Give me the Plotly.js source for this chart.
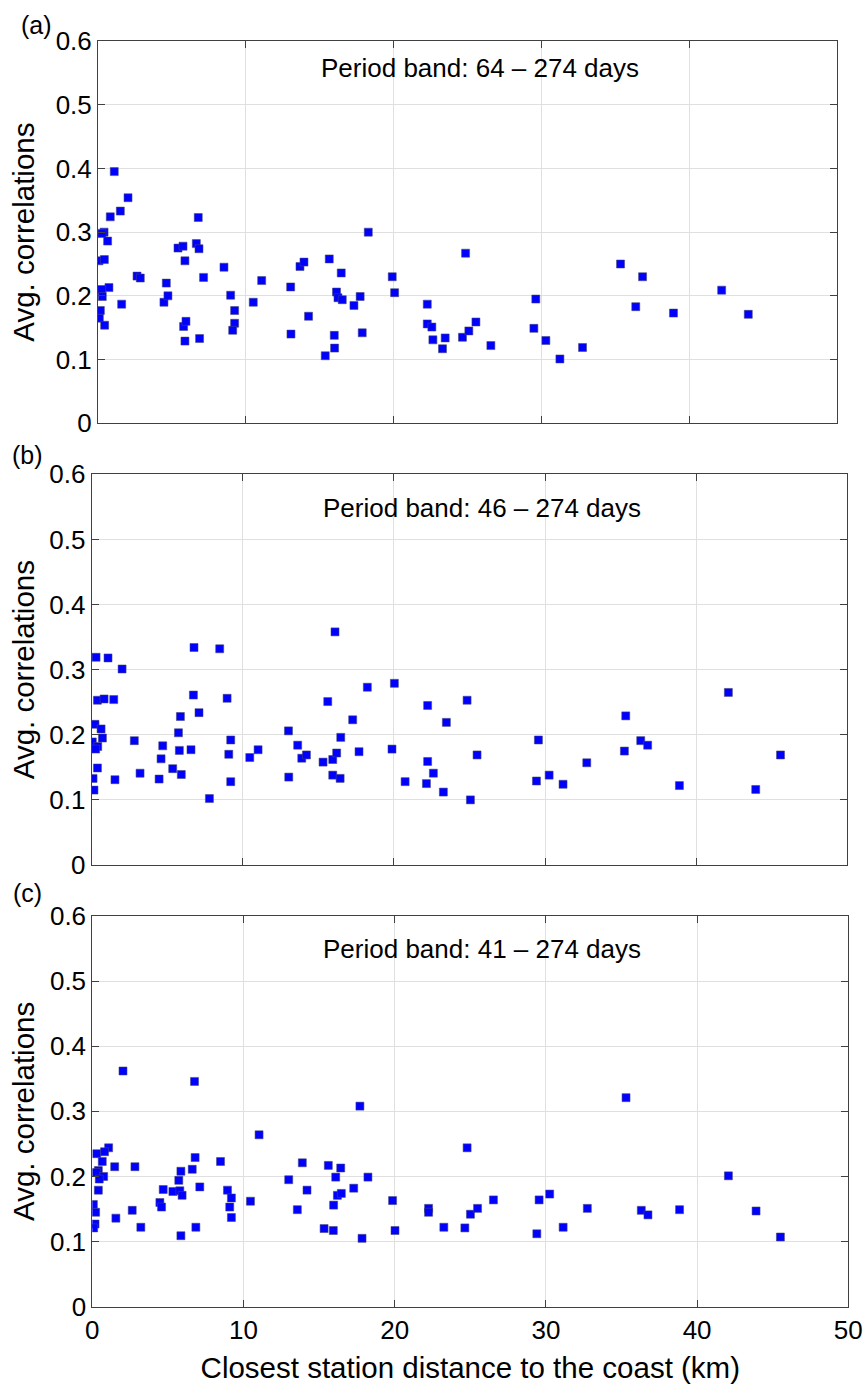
<!DOCTYPE html>
<html>
<head>
<meta charset="utf-8">
<script src="https://cdn.plot.ly/plotly-3.0.1.min.js"></script>
<style>html,body{margin:0;padding:0;background:#fff;}#chart{width:866px;height:1384px;}</style>
</head>
<body>
<div id="chart"></div>
<script>
// Panel (a): Period band 64 – 274 days
const distA = [1.10,2.03,1.51,0.83,0.41,0.27,0.65,0.07,0.43,0.74,0.25,0.29,0.16,0.09,0.45,1.60,2.64,2.86,4.46,4.62,4.73,5.41,5.75,5.88,5.79,5.95,5.88,6.78,6.65,6.83,6.87,7.14,8.52,8.97,9.24,9.24,9.11,10.50,11.07,13.03,13.05,13.66,13.93,14.24,15.37,15.64,16.00,15.98,16.13,16.23,16.45,16.52,17.31,17.73,17.87,18.28,19.90,20.06,22.27,22.27,22.58,22.65,23.30,23.48,24.65,24.86,25.08,25.56,26.57,29.48,29.61,30.29,31.24,32.77,35.34,36.83,36.37,38.92,42.18,43.98];
const corrA = [0.395,0.354,0.333,0.324,0.300,0.298,0.286,0.255,0.257,0.213,0.210,0.199,0.177,0.165,0.154,0.187,0.231,0.228,0.190,0.220,0.200,0.275,0.278,0.255,0.152,0.160,0.129,0.323,0.282,0.274,0.133,0.229,0.245,0.201,0.177,0.157,0.146,0.190,0.224,0.214,0.140,0.246,0.253,0.168,0.106,0.258,0.118,0.138,0.206,0.197,0.236,0.194,0.185,0.199,0.142,0.300,0.230,0.205,0.187,0.156,0.151,0.131,0.117,0.134,0.135,0.267,0.145,0.159,0.122,0.149,0.195,0.130,0.101,0.119,0.250,0.230,0.183,0.173,0.209,0.171];

// Panel (b): Period band 46 – 274 days
const distB = [0.29,1.08,2.01,0.38,0.82,1.46,0.22,0.62,0.04,0.71,0.40,0.26,0.38,0.09,0.15,1.54,2.82,3.20,4.46,4.70,4.59,5.36,5.74,5.87,5.80,5.93,6.57,6.73,6.77,7.10,7.79,8.47,8.96,9.20,9.07,9.20,10.46,11.01,13.02,13.04,13.63,13.90,14.21,15.31,15.62,16.10,15.95,16.21,15.95,16.44,16.48,17.27,17.69,18.24,19.87,20.03,20.74,22.23,22.23,22.61,22.15,23.27,23.47,24.84,25.06,25.50,29.43,29.56,30.27,31.19,32.76,35.34,35.25,36.33,36.79,38.89,42.13,43.94,45.58];
const corrB = [0.319,0.318,0.301,0.253,0.255,0.254,0.216,0.209,0.189,0.195,0.182,0.178,0.149,0.133,0.115,0.131,0.191,0.141,0.132,0.183,0.163,0.148,0.203,0.228,0.176,0.139,0.177,0.261,0.334,0.234,0.102,0.332,0.256,0.192,0.170,0.128,0.165,0.177,0.206,0.135,0.184,0.164,0.169,0.158,0.251,0.358,0.162,0.172,0.138,0.133,0.196,0.223,0.174,0.273,0.178,0.279,0.128,0.245,0.159,0.141,0.125,0.112,0.219,0.253,0.100,0.169,0.129,0.192,0.138,0.124,0.157,0.229,0.175,0.191,0.184,0.122,0.265,0.116,0.169];

// Panel (c): Period band 41 – 274 days
const distC = [2.03,6.76,11.03,1.08,0.81,0.29,0.66,0.40,0.26,0.75,0.46,0.40,0.07,0.22,0.18,0.09,1.48,1.56,2.82,2.64,3.21,4.47,4.58,4.69,5.33,5.72,5.86,5.79,5.94,5.86,6.61,6.80,7.11,6.85,8.48,8.94,9.20,9.09,9.20,10.46,12.99,13.56,13.89,14.20,15.33,15.61,15.94,15.96,16.10,16.21,16.43,16.47,17.29,17.70,17.84,18.23,19.86,20.02,22.24,22.24,23.25,24.64,24.79,25.01,25.48,26.53,29.40,29.55,30.25,31.14,32.74,35.30,36.31,36.75,38.84,42.07,43.90,45.51];
const corrC = [0.362,0.346,0.264,0.244,0.238,0.235,0.223,0.209,0.206,0.200,0.196,0.179,0.157,0.145,0.127,0.121,0.215,0.136,0.215,0.148,0.122,0.160,0.153,0.180,0.177,0.194,0.208,0.178,0.171,0.109,0.211,0.229,0.184,0.122,0.223,0.179,0.167,0.153,0.137,0.162,0.195,0.149,0.221,0.179,0.120,0.217,0.117,0.156,0.199,0.171,0.213,0.174,0.182,0.308,0.105,0.199,0.163,0.117,0.151,0.145,0.122,0.121,0.244,0.142,0.151,0.164,0.112,0.164,0.173,0.122,0.151,0.321,0.148,0.141,0.149,0.201,0.147,0.107];

const panelLabels = ["(a)", "(b)", "(c)"];
const bandTexts = ["Period band: 64 \u2013 274 days", "Period band: 46 \u2013 274 days", "Period band: 41 \u2013 274 days"];
const xTitle = "Closest station distance to the coast (km)";
const yTitle = "Avg. correlations";

const FONT = "Arial, 'Liberation Sans', Helvetica, sans-serif";
const W = 866, H = 1384;

function px(x) { return x / W; }
function py(y) { return 1 - y / H; }

const marker = {symbol: "square", size: 8, color: "#0000ff", line: {color: "rgba(70,70,110,0.9)", width: 0.6}};

const traces = [
  {x: distA, y: corrA, xaxis: "x", yaxis: "y", type: "scatter", mode: "markers", marker: marker, showlegend: false},
  {x: distB, y: corrB, xaxis: "x2", yaxis: "y2", type: "scatter", mode: "markers", marker: marker, showlegend: false},
  {x: distC, y: corrC, xaxis: "x3", yaxis: "y3", type: "scatter", mode: "markers", marker: marker, showlegend: false}
];

function xax(domain, anchor, showLabels, title) {
  const a = {
    domain: domain, anchor: anchor, range: [0, 50], dtick: 10, tick0: 0,
    showgrid: true, gridcolor: "#e0e0e0", gridwidth: 1, zeroline: false,
    showline: true, linecolor: "#404040", linewidth: 1, mirror: "ticks",
    ticks: "inside", ticklen: 7, tickcolor: "#404040", tickwidth: 1,
    showticklabels: showLabels, tickfont: {family: FONT, size: 26, color: "#000"},
    fixedrange: true
  };
  if (title) a.title = {text: title, font: {family: FONT, size: 29.5, color: "#000"}, standoff: 13};
  return a;
}
function yax(domain, anchor, standoff) {
  return {
    domain: domain, anchor: anchor, range: [0, 0.6], dtick: 0.1, tick0: 0,
    showgrid: true, gridcolor: "#e0e0e0", gridwidth: 1, zeroline: false,
    showline: true, linecolor: "#404040", linewidth: 1, mirror: "ticks",
    ticks: "inside", ticklen: 7, tickcolor: "#404040", tickwidth: 1,
    tickfont: {family: FONT, size: 26, color: "#000"},
    title: {text: yTitle, font: {family: FONT, size: 29.5, color: "#000"}, standoff: standoff},
    fixedrange: true
  };
}

function label(text, x, y) {
  return {text: text, xref: "paper", yref: "paper", x: px(x), y: py(y), xanchor: "center", yanchor: "middle",
          showarrow: false, font: {family: FONT, size: 25, color: "#000"}};
}

const layout = {
  width: W, height: H,
  margin: {l: 0, r: 0, t: 0, b: 0},
  paper_bgcolor: "#fff", plot_bgcolor: "#fff",
  font: {family: FONT, color: "#000"},
  xaxis: xax([px(98), px(837.3)], "y", false),
  yaxis: yax([py(423.3), py(41)], "x", 12),
  xaxis2: xax([px(91.7), px(847.3)], "y2", false),
  yaxis2: yax([py(865), py(474.3)], "x2", 6),
  xaxis3: xax([px(92.3), px(848.3)], "y3", true, xTitle),
  yaxis3: yax([py(1306.7), py(916)], "x3", 6),
  annotations: [
    {text: bandTexts[0], xref: "x", yref: "y", x: 25.85, y: 0.557, xanchor: "center", yanchor: "middle", showarrow: false, font: {family: FONT, size: 26, color: "#000"}},
    {text: bandTexts[1], xref: "x2", yref: "y2", x: 25.85, y: 0.549, xanchor: "center", yanchor: "middle", showarrow: false, font: {family: FONT, size: 26, color: "#000"}},
    {text: bandTexts[2], xref: "x3", yref: "y3", x: 25.75, y: 0.550, xanchor: "center", yanchor: "middle", showarrow: false, font: {family: FONT, size: 26, color: "#000"}},
    label(panelLabels[0], 36, 25),
    label(panelLabels[1], 27, 455),
    label(panelLabels[2], 27, 893)
  ]
};

Plotly.newPlot("chart", traces, layout, {displayModeBar: false, staticPlot: true});
</script>
</body>
</html>
